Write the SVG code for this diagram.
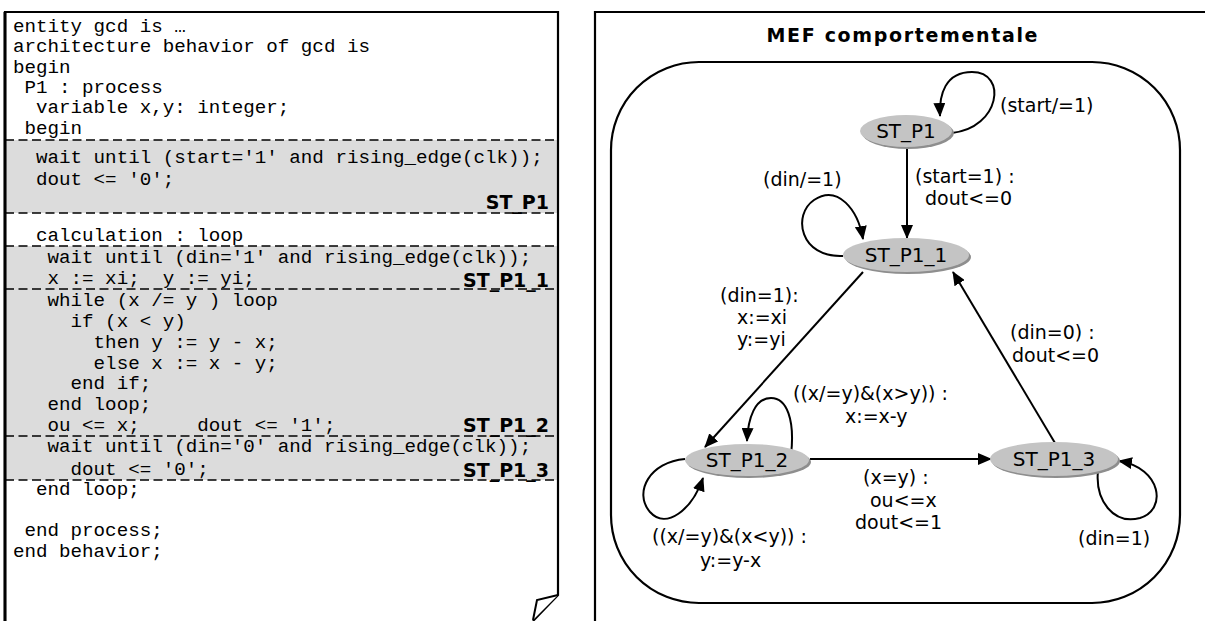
<svg xmlns="http://www.w3.org/2000/svg" width="1205" height="621" viewBox="0 0 1205 621">
<style>
.code{font-family:"Courier New","Liberation Mono",monospace;font-size:19.2px;fill:#000;white-space:pre}
.tag{font-family:"DejaVu Sans",Verdana,sans-serif;font-size:19px;font-weight:bold;fill:#000;text-anchor:end}
.band{fill:#dcdcdc}
.dash{stroke:#000;stroke-width:1.6;stroke-dasharray:9 4.5;fill:none}
.frame{stroke:#000;stroke-width:2.2;fill:none}
.st{fill:#c4c4c4}
.sh{fill:#8e8e8e}
.stl{font-family:"DejaVu Sans",Verdana,sans-serif;font-size:20px;fill:#000;text-anchor:middle}
.lbl{font-family:"DejaVu Sans",Verdana,sans-serif;font-size:19px;fill:#000}
.edge{stroke:#000;stroke-width:2;fill:none;marker-end:url(#ah)}
</style>
<defs>
<marker id="ah" markerUnits="userSpaceOnUse" markerWidth="14" markerHeight="12" refX="13" refY="6" orient="auto">
<path d="M0,0 L14,6 L0,12 z" fill="#000"/>
</marker>
</defs>
<rect width="1205" height="621" fill="#fff"/>

<g id="code-panel">
<rect class="band" x="6" y="140" width="551" height="73"/>
<rect class="band" x="6" y="246" width="551" height="234"/>
<line class="dash" x1="5" y1="140" x2="558" y2="140"/>
<line class="dash" x1="5" y1="213" x2="558" y2="213"/>
<line class="dash" x1="5" y1="246" x2="558" y2="246"/>
<line class="dash" x1="5" y1="289" x2="558" y2="289"/>
<line class="dash" x1="5" y1="436" x2="558" y2="436"/>
<line class="dash" x1="5" y1="480" x2="558" y2="480"/>
<path class="frame" d="M5,623 V12 H558 V595 L533,621"/>
<path d="M558,595 L537,600 L533,620" fill="#fff" stroke="#000" stroke-width="2"/>
<line x1="5" y1="12" x2="5" y2="621" stroke="#000" stroke-width="3"/>
<text class="code" x="13" y="32" xml:space="preserve">entity gcd is …</text>
<text class="code" x="13" y="52" xml:space="preserve">architecture behavior of gcd is</text>
<text class="code" x="13" y="73" xml:space="preserve">begin</text>
<text class="code" x="13" y="93" xml:space="preserve"> P1 : process</text>
<text class="code" x="13" y="113" xml:space="preserve">  variable x,y: integer;</text>
<text class="code" x="13" y="134" xml:space="preserve"> begin</text>
<text class="code" x="13" y="163" xml:space="preserve">  wait until (start='1' and rising_edge(clk));</text>
<text class="code" x="13" y="185" xml:space="preserve">  dout &lt;= '0';</text>
<text class="tag" x="549" y="209">ST_P1</text>
<text class="code" x="13" y="241" xml:space="preserve">  calculation : loop</text>
<text class="code" x="13" y="263" xml:space="preserve">   wait until (din='1' and rising_edge(clk));</text>
<text class="code" x="13" y="284" xml:space="preserve">   x := xi;  y := yi;</text>
<text class="tag" x="549" y="287">ST_P1_1</text>
<text class="code" x="13" y="306" xml:space="preserve">   while (x /= y ) loop</text>
<text class="code" x="13" y="327" xml:space="preserve">     if (x &lt; y)</text>
<text class="code" x="13" y="348" xml:space="preserve">       then y := y - x;</text>
<text class="code" x="13" y="369" xml:space="preserve">       else x := x - y;</text>
<text class="code" x="13" y="389" xml:space="preserve">     end if;</text>
<text class="code" x="13" y="410" xml:space="preserve">   end loop;</text>
<text class="code" x="13" y="431" xml:space="preserve">   ou &lt;= x;     dout &lt;= '1';</text>
<text class="tag" x="549" y="432">ST_P1_2</text>
<text class="code" x="13" y="452" xml:space="preserve">   wait until (din='0' and rising_edge(clk));</text>
<text class="code" x="13" y="475" xml:space="preserve">     dout &lt;= '0';</text>
<text class="tag" x="549" y="477">ST_P1_3</text>
<text class="code" x="13" y="495" xml:space="preserve">  end loop;</text>
<text class="code" x="13" y="536" xml:space="preserve"> end process;</text>
<text class="code" x="13" y="557" xml:space="preserve">end behavior;</text>
</g>

<g id="fsm-panel">
<path class="frame" d="M1207,12 H595 V623"/>
<text x="902" y="42" font-family="DejaVu Sans,Verdana,sans-serif" font-size="19" font-weight="bold" text-anchor="middle" textLength="271" lengthAdjust="spacing">MEF comportementale</text>
<rect x="611" y="62" width="569" height="541" rx="88" ry="88" fill="none" stroke="#000" stroke-width="2.2"/>
</g>

<g id="connectors">
<path class="edge" d="M952,133 C1000,128 1008,72 972,72 C945,72 939,95 940,116"/>
<line class="edge" x1="907" y1="148" x2="907" y2="238"/>
<path class="edge" d="M843,256 C800,258 792,215 814,200 C838,184 858,210 863,239"/>
<line class="edge" x1="863" y1="272" x2="705" y2="447"/>
<path class="edge" d="M791,455 C795,420 787,398 771,398 C755,398 748,418 747,441"/>
<path class="edge" d="M685,459 C650,462 633,492 650,512 C666,530 692,510 703,478"/>
<line class="edge" x1="810" y1="459" x2="991" y2="459"/>
<line class="edge" x1="1055" y1="443" x2="953" y2="272"/>
<path class="edge" d="M1098,471 C1095,500 1113,525 1140,518 C1167,510 1162,468 1119,461"/>
</g>

<g id="ST_P1">
<ellipse class="sh" cx="908" cy="133" rx="46" ry="16"/>
<ellipse class="st" cx="906" cy="131" rx="46" ry="16"/>
<text class="stl" x="906" y="138">ST_P1</text>
</g>
<g id="ST_P1_1">
<ellipse class="sh" cx="908" cy="257" rx="63" ry="17"/>
<ellipse class="st" cx="906" cy="255" rx="63" ry="17"/>
<text class="stl" x="906" y="262">ST_P1_1</text>
</g>
<g id="ST_P1_2">
<ellipse class="sh" cx="749" cy="462" rx="62" ry="16"/>
<ellipse class="st" cx="747" cy="460" rx="62" ry="16"/>
<text class="stl" x="747" y="467">ST_P1_2</text>
</g>
<g id="ST_P1_3">
<ellipse class="sh" cx="1056" cy="461" rx="64" ry="17"/>
<ellipse class="st" cx="1054" cy="459" rx="64" ry="17"/>
<text class="stl" x="1054" y="466">ST_P1_3</text>
</g>

<g id="labels">
<text class="lbl" x="1000" y="112">(start/=1)</text>
<text class="lbl" x="915" y="183">(start=1) :</text>
<text class="lbl" x="925" y="205">dout&lt;=0</text>
<text class="lbl" x="763" y="186">(din/=1)</text>
<text class="lbl" x="720" y="302">(din=1):</text>
<text class="lbl" x="737" y="324">x:=xi</text>
<text class="lbl" x="737" y="346">y:=yi</text>
<text class="lbl" x="1010" y="339">(din=0) :</text>
<text class="lbl" x="1012" y="362">dout&lt;=0</text>
<text class="lbl" x="793" y="400">((x/=y)&amp;(x&gt;y)) :</text>
<text class="lbl" x="845" y="423">x:=x-y</text>
<text class="lbl" x="863" y="484">(x=y) :</text>
<text class="lbl" x="870" y="507">ou&lt;=x</text>
<text class="lbl" x="855" y="529">dout&lt;=1</text>
<text class="lbl" x="652" y="543">((x/=y)&amp;(x&lt;y)) :</text>
<text class="lbl" x="700" y="567">y:=y-x</text>
<text class="lbl" x="1078" y="545">(din=1)</text>
</g>
</svg>
